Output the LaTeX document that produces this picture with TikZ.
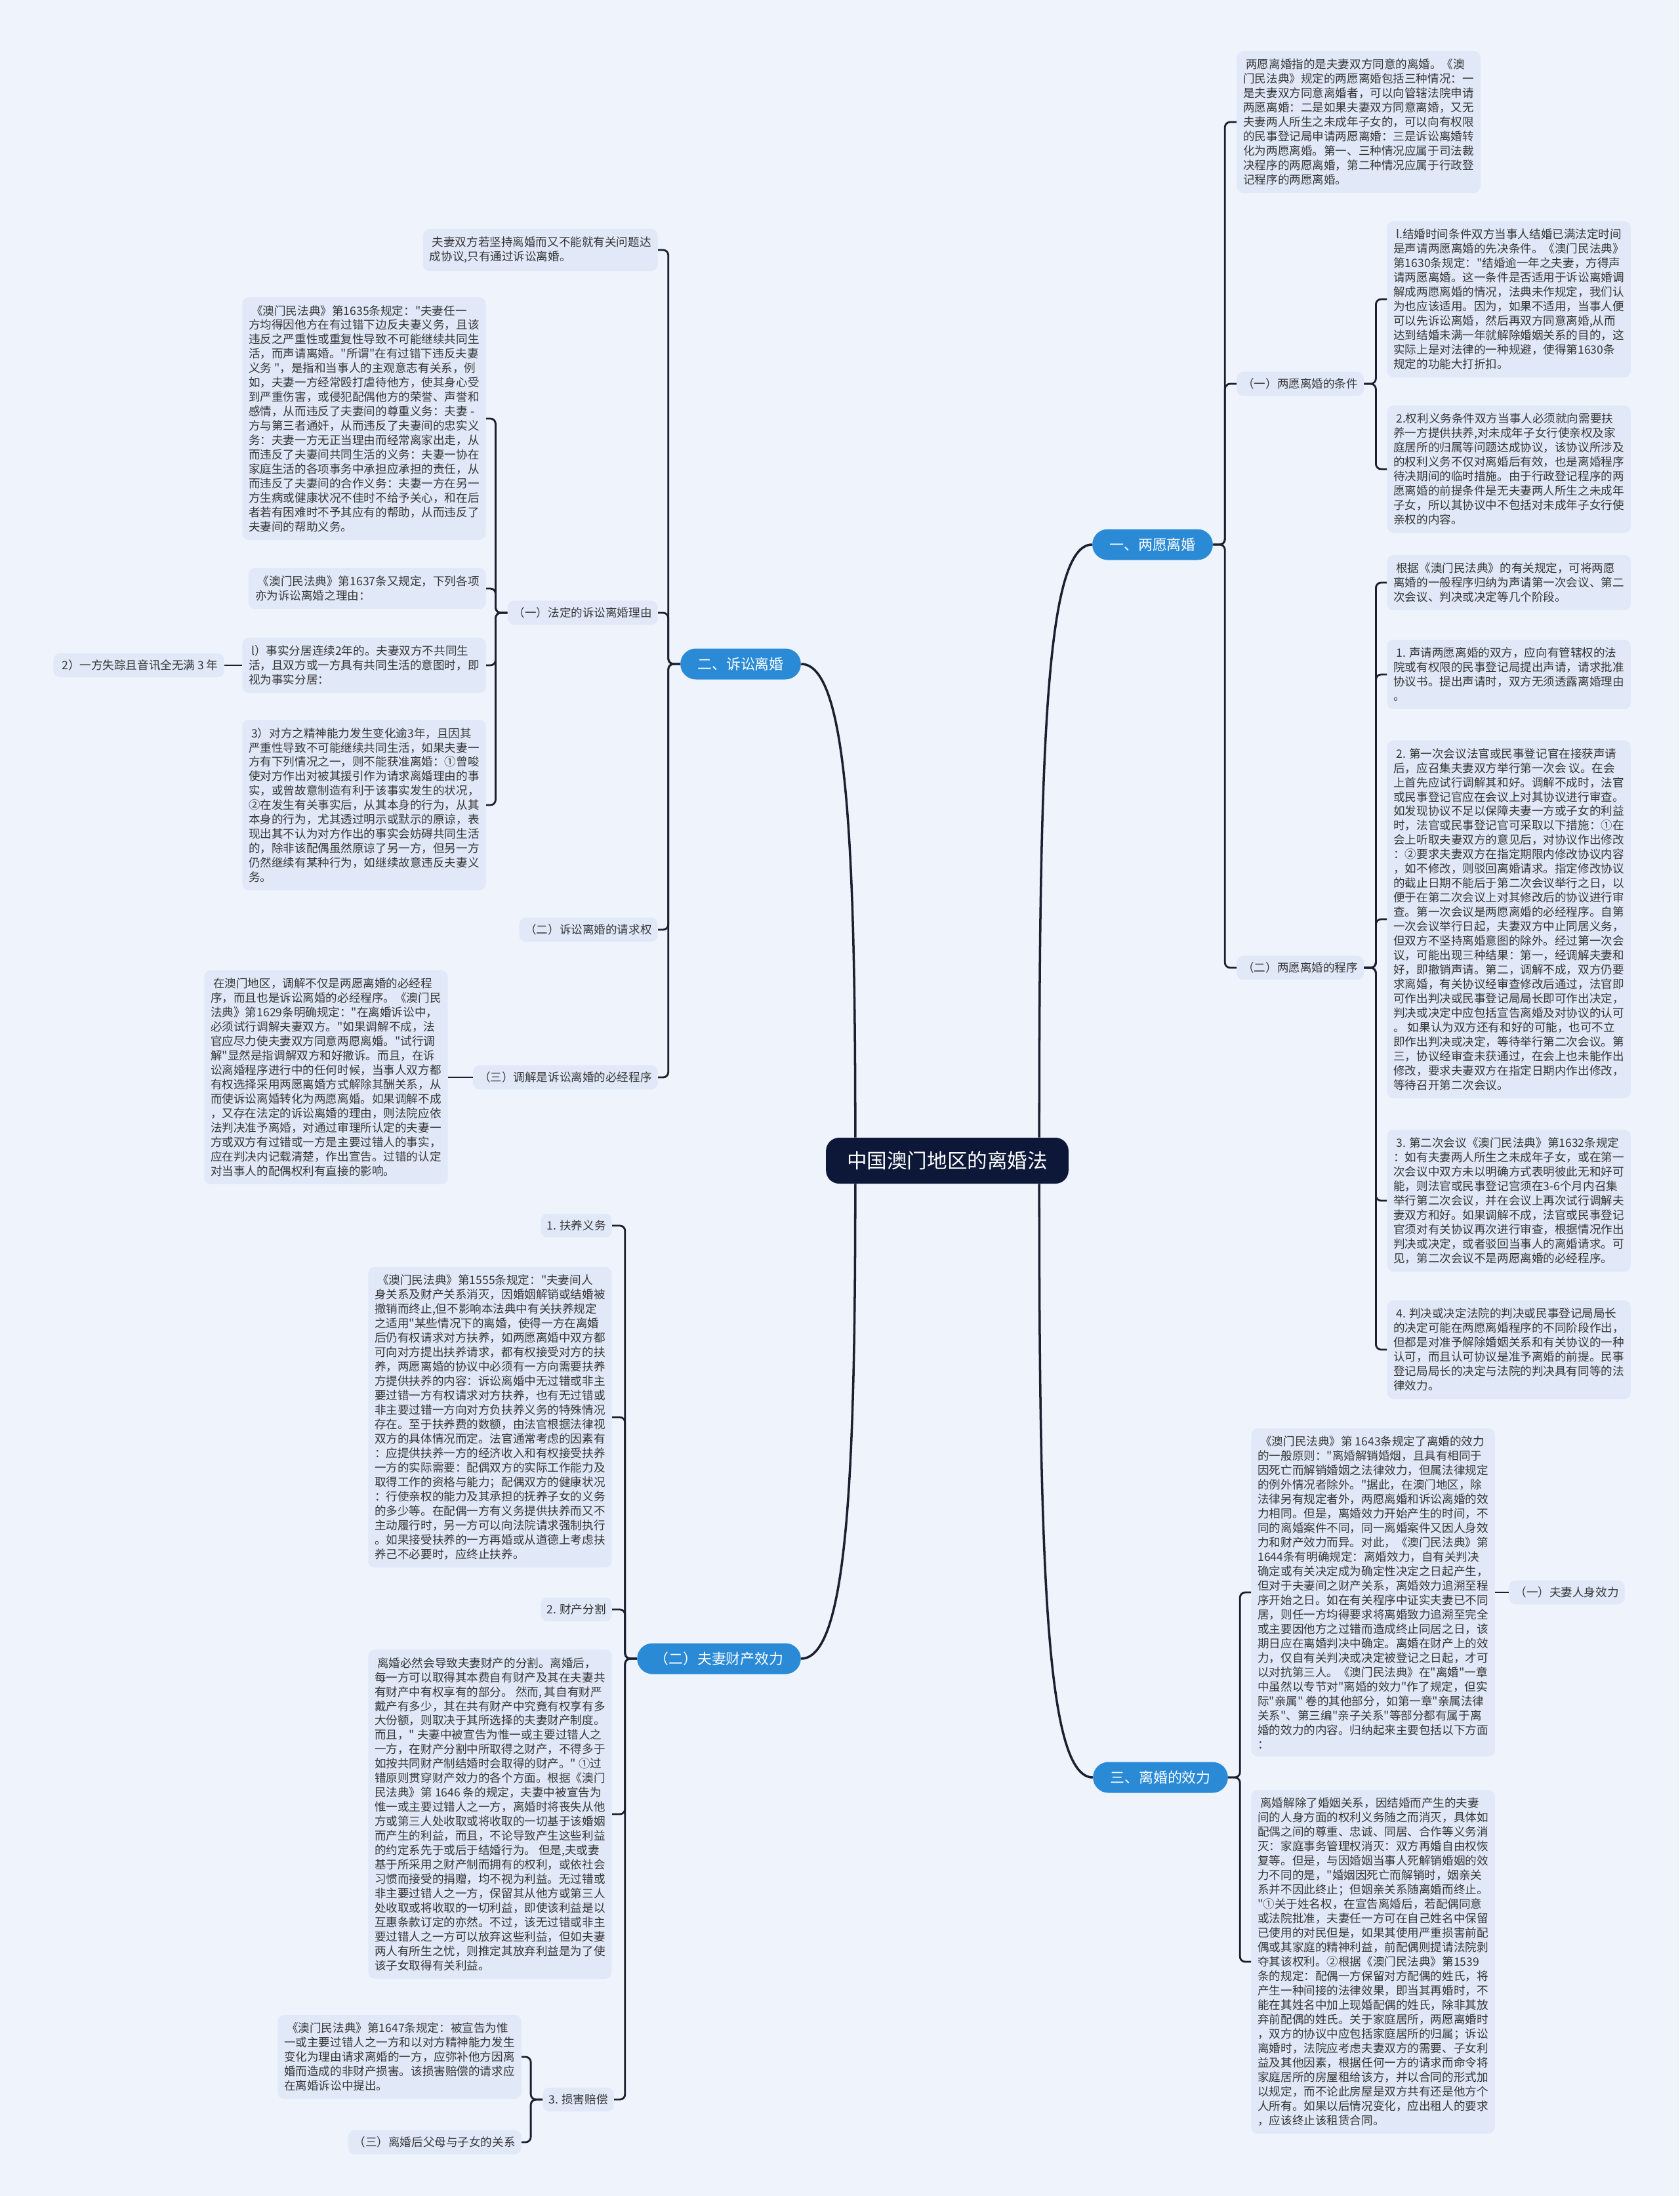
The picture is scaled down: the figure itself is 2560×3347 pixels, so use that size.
\documentclass[tikz,border=0pt]{standalone}
\usepackage{fontspec}
\setmainfont{Noto Sans CJK SC}[Ligatures=TeXOff]
\usetikzlibrary{positioning}
\definecolor{pageBg}{HTML}{EEF3FC}
\definecolor{boxFill}{HTML}{E1E9F8}
\definecolor{branchBlue}{HTML}{2A8AD6}
\definecolor{rootNavy}{HTML}{0D1838}
\definecolor{inkGrey}{HTML}{363636}
\definecolor{linkInk}{HTML}{1B2030}

\tikzset{
  note/.style={fill=boxFill,rounded corners=0.2cm,align=left,inner xsep=0.2cm,inner ysep=0.24cm,text=inkGrey,font=\fontsize{10pt}{12.5pt}\selectfont},
  tag/.style={note,inner xsep=0.18cm,inner ysep=0.2cm},
  branch/.style={fill=branchBlue,text=white,rounded corners=0.47cm,minimum height=0.94cm,inner xsep=0.52cm,inner ysep=0cm,font=\fontsize{12.5pt}{14pt}\selectfont},
  rootbox/.style={fill=rootNavy,text=white,rounded corners=0.4cm,minimum height=1.4cm,inner xsep=0.64cm,font=\fontsize{17.4pt}{20pt}\selectfont},
  link/.style={draw=linkInk,line width=1.6pt,rounded corners=0.16cm},
  trunk/.style={draw=linkInk,line width=2pt},
}

\begin{document}
\begin{tikzpicture}[x=0.02cm,y=-0.02cm]
  \fill[pageBg] (0,0) rectangle (2560,3347);
  \useasboundingbox (0,0) rectangle (2560,3347);

  % centre and main branches
  \node[rootbox] (root) at (1444,1769) {中国澳门地区的离婚法};
  \node[branch] (b1) at (1757,830) {一、两愿离婚};
  \node[branch] (b2) at (1129,1012) {二、诉讼离婚};
  \node[branch] (b3) at (1769,2709) {三、离婚的效力};
  \node[branch] (b4) at (1096,2528) {（二）夫妻财产效力};

  % right: 两愿离婚
  \node[note,anchor=west] (t0) at (1885,186) {\ 两愿离婚指的是夫妻双方同意的离婚。《澳\\门民法典》规定的两愿离婚包括三种情况：一\\是夫妻双方同意离婚者，可以向管辖法院申请\\两愿离婚：二是如果夫妻双方同意离婚，又无\\夫妻两人所生之未成年子女的，可以向有权限\\的民事登记局申请两愿离婚：三是诉讼离婚转\\化为两愿离婚。第一、三种情况应属于司法裁\\决程序的两愿离婚，第二种情况应属于行政登\\记程序的两愿离婚。};
  \node[tag,anchor=west] (c11) at (1885,585) {（一）两愿离婚的条件};
  \node[tag,anchor=west] (c12) at (1885,1475) {（二）两愿离婚的程序};

  \node[note,anchor=west] (r1) at (2114,456) {\ l.结婚时间条件双方当事人结婚已满法定时间\\是声请两愿离婚的先决条件。《澳门民法典》\\第1630条规定："结婚逾一年之夫妻，方得声\\请两愿离婚。这一条件是否适用于诉讼离婚调\\解成两愿离婚的情况，法典未作规定，我们认\\为也应该适用。因为，如果不适用，当事人便\\可以先诉讼离婚，然后再双方同意离婚,从而\\达到结婚未满一年就解除婚姻关系的目的，这\\实际上是对法律的一种规避，使得第1630条\\规定的功能大打折扣。};
  \node[note,anchor=west] (r2) at (2114,715) {\ 2.权利义务条件双方当事人必须就向需要扶\\养一方提供扶养,对未成年子女行使亲权及家\\庭居所的归属等问题达成协议，该协议所涉及\\的权利义务不仅对离婚后有效，也是离婚程序\\待决期间的临时措施。由于行政登记程序的两\\愿离婚的前提条件是无夫妻两人所生之未成年\\子女，所以其协议中不包括对未成年子女行使\\亲权的内容。};

  \node[note,anchor=west] (r3) at (2114,888) {\ 根据《澳门民法典》的有关规定，可将两愿\\离婚的一般程序归纳为声请第一次会议、第二\\次会议、判决或决定等几个阶段。};
  \node[note,anchor=west] (r4) at (2114,1028) {\ 1. 声请两愿离婚的双方，应向有管辖权的法\\院或有权限的民事登记局提出声请，请求批准\\协议书。提出声请时，双方无须透露离婚理由\\。};
  \node[note,anchor=west] (r5) at (2114,1401) {\ 2. 第一次会议法官或民事登记官在接获声请\\后，应召集夫妻双方举行第一次会 议。在会\\上首先应试行调解其和好。调解不成时，法官\\或民事登记官应在会议上对其协议进行审查。\\如发现协议不足以保障夫妻一方或子女的利益\\时，法官或民事登记官可采取以下措施：①在\\会上听取夫妻双方的意见后，对协议作出修改\\：②要求夫妻双方在指定期限内修改协议内容\\，如不修改，则驳回离婚请求。指定修改协议\\的截止日期不能后于第二次会议举行之日，以\\便于在第二次会议上对其修改后的协议进行审\\查。第一次会议是两愿离婚的必经程序。自第\\一次会议举行日起，夫妻双方中止同居义务，\\但双方不坚持离婚意图的除外。经过第一次会\\议，可能出现三种结果：第一，经调解夫妻和\\好，即撤销声请。第二，调解不成，双方仍要\\求离婚，有关协议经审查修改后通过，法官即\\可作出判决或民事登记局局长即可作出决定，\\判决或决定中应包括宣告离婚及对协议的认可\\。 如果认为双方还有和好的可能，也可不立\\即作出判决或决定，等待举行第二次会议。第\\三，协议经审查未获通过，在会上也未能作出\\修改，要求夫妻双方在指定日期内作出修改，\\等待召开第二次会议。};
  \node[note,anchor=west] (r6) at (2114,1830) {\ 3. 第二次会议《澳门民法典》第1632条规定\\：如有夫妻两人所生之未成年子女，或在第一\\次会议中双方未以明确方式表明彼此无和好可\\能，则法官或民事登记宫须在3-6个月内召集\\举行第二次会议，并在会议上再次试行调解夫\\妻双方和好。如果调解不成，法官或民事登记\\官须对有关协议再次进行审查，根据情况作出\\判决或决定，或者驳回当事人的离婚请求。可\\见，第二次会议不是两愿离婚的必经程序。};
  \node[note,anchor=west] (r7) at (2114,2057) {\ 4. 判决或决定法院的判决或民事登记局局长\\的决定可能在两愿离婚程序的不同阶段作出，\\但都是对准予解除婚姻关系和有关协议的一种\\认可，而且认可协议是准予离婚的前提。民事\\登记局局长的决定与法院的判决具有同等的法\\律效力。};

  % right: 离婚的效力
  \node[note,anchor=west] (r8) at (1907,2427) {\ 《澳门民法典》第 1643条规定了离婚的效力\\的一般原则："离婚解销婚烟，且具有相同于\\因死亡而解销婚姻之法律效力，但属法律规定\\的例外情况者除外。"据此，在澳门地区，除\\法律另有规定者外，两愿离婚和诉讼离婚的效\\力相同。但是，离婚效力开始产生的时间，不\\同的离婚案件不同，同一离婚案件又因人身效\\力和财产效力而异。对此，《澳门民法典》第\\1644条有明确规定：离婚效力，自有关判决\\确定或有关决定成为确定性决定之日起产生，\\但对于夫妻间之财产关系，离婚效力追溯至程\\序开始之日。如在有关程序中证实夫妻已不同\\居，则任一方均得要求将离婚致力追溯至完全\\或主要因他方之过错而造成终止同居之日，该\\期日应在离婚判决中确定。离婚在财产上的效\\力，仅自有关判决或决定被登记之日起，才可\\以对抗第三人。《澳门民法典》在"离婚"一章\\中虽然以专节对"离婚的效力"作了规定，但实\\际"亲属" 卷的其他部分，如第一章"亲属法律\\关系"、第三编"亲子关系"等部分都有属于离\\婚的效力的内容。归纳起来主要包括以下方面\\：};
  \node[tag,right=0.42cm of r8] (r10) {（一）夫妻人身效力};
  \node[note,anchor=west] (r9) at (1907,2990) {\ 离婚解除了婚姻关系，因结婚而产生的夫妻\\间的人身方面的权利义务随之而消灭，具体如\\配偶之间的尊重、忠诚、同居、合作等义务消\\灭：家庭事务管理权消灭：双方再婚自由权恢\\复等。但是，与因婚姻当事人死解销婚姻的效\\力不同的是，"婚姻因死亡而解销时，姻亲关\\系并不因此终止；但姻亲关系随离婚而终止。\\"①关于姓名权，在宣告离婚后，若配偶同意\\或法院批准，夫妻任一方可在自己姓名中保留\\已使用的对民但是，如果其使用严重损害前配\\偶或其家庭的精神利益，前配偶则提请法院剥\\夺其该权利。②根据《澳门民法典》第1539\\条的规定：配偶一方保留对方配偶的姓氏，将\\产生一种间接的法律效果，即当其再婚时，不\\能在其姓名中加上现婚配偶的姓氏，除非其放\\弃前配偶的姓氏。关于家庭居所，两愿离婚时\\，双方的协议中应包括家庭居所的归属；诉讼\\离婚时，法院应考虑夫妻双方的需要、子女利\\益及其他因素，根据任何一方的请求而命令将\\家庭居所的房屋租给该方，并以合同的形式加\\以规定，而不论此房屋是双方共有还是他方个\\人所有。如果以后情况变化，应出租人的要求\\，应该终止该租赁合同。};

  % left: 诉讼离婚
  \node[note,anchor=east] (l1) at (1003,381) {\ 夫妻双方若坚持离婚而又不能就有关问题达\\成协议,只有通过诉讼离婚。};
  \node[tag,anchor=east] (c21) at (1003,934) {（一）法定的诉讼离婚理由};
  \node[tag,anchor=east] (c22) at (1003,1417) {（二）诉讼离婚的请求权};
  \node[tag,anchor=east] (c23) at (1003,1642) {（三）调解是诉讼离婚的必经程序};

  \node[note,anchor=east] (l2) at (741,638) {\ 《澳门民法典》第1635条规定："夫妻任一\\方均得因他方在有过错下边反夫妻义务，且该\\违反之严重性或重复性导致不可能继续共同生\\活，而声请离婚。"所谓"在有过错下违反夫妻\\义务 "，是指和当事人的主观意志有关系，例\\如，夫妻一方经常殴打虐待他方，使其身心受\\到严重伤害，或侵犯配偶他方的荣誉、声誉和\\感情，从而违反了夫妻间的尊重义务：夫妻 -\\方与第三者通奸，从而违反了夫妻间的忠实义\\务：夫妻一方无正当理由而经常离家出走，从\\而违反了夫妻间共同生活的义务：夫妻一协在\\家庭生活的各项事务中承担应承担的责任，从\\而违反了夫妻间的合作义务：夫妻一方在另一\\方生病或健康状况不佳时不给予关心，和在后\\者若有困难时不予其应有的帮助，从而违反了\\夫妻间的帮助义务。};
  \node[note,anchor=east] (l3) at (741,897) {\ 《澳门民法典》第1637条又规定，下列各项\\亦为诉讼离婚之理由：};
  \node[note,anchor=east] (l4) at (741,1014) {\ l）事实分居连续2年的。夫妻双方不共同生\\活，且双方或一方具有共同生活的意图时，即\\视为事实分居：};
  \node[tag,left=0.54cm of l4] (l6) {\ 2）一方失踪且音讯全无满 3 年};
  \node[note,anchor=east] (l5) at (741,1227) {\ 3）对方之精神能力发生变化逾3年，且因其\\严重性导致不可能继续共同生活，如果夫妻一\\方有下列情况之一，则不能获准离婚：①曾唆\\使对方作出对被其援引作为请求离婚理由的事\\实，或曾故意制造有利于该事实发生的状况，\\②在发生有关事实后，从其本身的行为，从其\\本身的行为，尤其透过明示或默示的原谅，表\\现出其不认为对方作出的事实会妨碍共同生活\\的，除非该配偶虽然原谅了另一方，但另一方\\仍然继续有某种行为，如继续故意违反夫妻义\\务。};
  \node[note,anchor=east] (l7) at (683,1642) {\ 在澳门地区，调解不仅是两愿离婚的必经程\\序，而且也是诉讼离婚的必经程序。《澳门民\\法典》第1629条明确规定："在离婚诉讼中，\\必须试行调解夫妻双方。"如果调解不成，法\\官应尽力使夫妻双方同意两愿离婚。"试行调\\解"显然是指调解双方和好撤诉。而且，在诉\\讼离婚程序进行中的任何时候，当事人双方都\\有权选择采用两愿离婚方式解除其酬关系，从\\而使诉讼离婚转化为两愿离婚。如果调解不成\\，又存在法定的诉讼离婚的理由，则法院应依\\法判决准予离婚，对通过审理所认定的夫妻一\\方或双方有过错或一方是主要过错人的事实，\\应在判决内记载清楚，作出宣告。过错的认定\\对当事人的配偶权利有直接的影响。};

  % left: 夫妻财产效力
  \node[tag,anchor=east] (l8) at (933,1868) {1. 扶养义务};
  \node[note,anchor=east] (l9) at (933,2160) {\ 《澳门民法典》第1555条规定："夫妻间人\\身关系及财产关系消灭，因婚姻解销或结婚被\\撤销而终止,但不影响本法典中有关扶养规定\\之适用"某些情况下的离婚，使得一方在离婚\\后仍有权请求对方扶养，如两愿离婚中双方都\\可向对方提出扶养请求，都有权接受对方的扶\\养，两愿离婚的协议中必须有一方向需要扶养\\方提供扶养的内容：诉讼离婚中无过错或非主\\要过错一方有权请求对方扶养，也有无过错或\\非主要过错一方向对方负扶养义务的特殊情况\\存在。至于扶养费的数额，由法官根据法律视\\双方的具体情况而定。法官通常考虑的因素有\\：应提供扶养一方的经济收入和有权接受扶养\\一方的实际需要：配偶双方的实际工作能力及\\取得工作的资格与能力；配偶双方的健康状况\\：行使亲权的能力及其承担的抚养子女的义务\\的多少等。在配偶一方有义务提供扶养而又不\\主动履行时，另一方可以向法院请求强制执行\\。如果接受扶养的一方再婚或从道德上考虑扶\\养己不必要时，应终止扶养。};
  \node[tag,anchor=east] (l10) at (933,2453) {2. 财产分割};
  \node[note,anchor=east] (l11) at (933,2765) {\ 离婚必然会导致夫妻财产的分割。离婚后，\\每一方可以取得其本费自有财产及其在夫妻共\\有财产中有权享有的部分。 然而, 其自有财严\\戴产有多少，其在共有财产中究竟有权享有多\\大份额，则取决于其所选择的夫妻财产制度。\\而且，" 夫妻中被宣告为惟一或主要过错人之\\一方，在财产分割中所取得之财产，不得多于\\如按共同财产制结婚时会取得的财产。" ①过\\错原则贯穿财产效力的各个方面。根据《澳门\\民法典》第 1646 条的规定，夫妻中被宣告为\\惟一或主要过错人之一方，离婚时将丧失从他\\方或第三人处收取或将收取的一切基于该婚姻\\而产生的利益，而且，不论导致产生这些利益\\的约定系先于或后于结婚行为。 但是,夫或妻\\基于所采用之财产制而拥有的权利，或依社会\\习惯而接受的捐赠，均不视为利益。无过错或\\非主要过错人之一方，保留其从他方或第三人\\处收取或将收取的一切利益，即使该利益是以\\互惠条款订定的亦然。不过，该无过错或非主\\要过错人之一方可以放弃这些利益，但如夫妻\\两人有所生之忧，则推定其放弃利益是为了使\\该子女取得有关利益。};
  \node[tag,anchor=east] (l12) at (936,3200) {3. 损害赔偿};
  \node[note,anchor=east] (l13) at (795,3135) {\ 《澳门民法典》第1647条规定：被宣告为惟\\一或主要过错人之一方和以对方精神能力发生\\变化为理由请求离婚的一方，应弥补他方因离\\婚而造成的非财产损害。该损害赔偿的请求应\\在离婚诉讼中提出。};
  \node[tag,anchor=east] (l14) at (795,3265) {（三）离婚后父母与子女的关系};

  % trunk curves from the centre
  \draw[trunk] ([xshift=-0.9cm]root.north east) .. controls +(0,-600) and +(-70,0) .. (b1.west);
  \draw[trunk] ([xshift=-0.9cm]root.south east) .. controls +(0,600) and +(-70,0) .. (b3.west);
  \draw[trunk] ([xshift=0.9cm]root.north west) .. controls +(0,-450) and +(70,0) .. (b2.east);
  \draw[trunk] ([xshift=0.9cm]root.south west) .. controls +(0,450) and +(70,0) .. (b4.east);

  % brackets to the right
  \foreach \kid in {t0,c11,c12} \draw[link] (b1.east) -- ++(0.36cm,0) |- (\kid.west);
  \foreach \kid in {r1,r2} \draw[link] (c11.east) -- ++(0.36cm,0) |- (\kid.west);
  \foreach \kid in {r3,r4,r5,r6,r7} \draw[link] (c12.east) -- ++(0.36cm,0) |- (\kid.west);
  \foreach \kid in {r8,r9} \draw[link] (b3.east) -- ++(0.36cm,0) |- (\kid.west);
  \draw[link] (r8.east) -- (r10.west);

  % brackets to the left
  \foreach \kid in {l1,c21,c22,c23} \draw[link] (b2.west) -- ++(-0.36cm,0) |- (\kid.east);
  \foreach \kid in {l2,l3,l4,l5} \draw[link] (c21.west) -- ++(-0.36cm,0) |- (\kid.east);
  \draw[link] (l4.west) -- (l6.east);
  \draw[link] (c23.west) -- (l7.east);
  \foreach \kid in {l8,l9,l10,l11,l12} \draw[link] (b4.west) -- ++(-0.36cm,0) |- (\kid.east);
  \foreach \kid in {l13,l14} \draw[link] (l12.west) -- ++(-0.36cm,0) |- (\kid.east);
\end{tikzpicture}
\end{document}
